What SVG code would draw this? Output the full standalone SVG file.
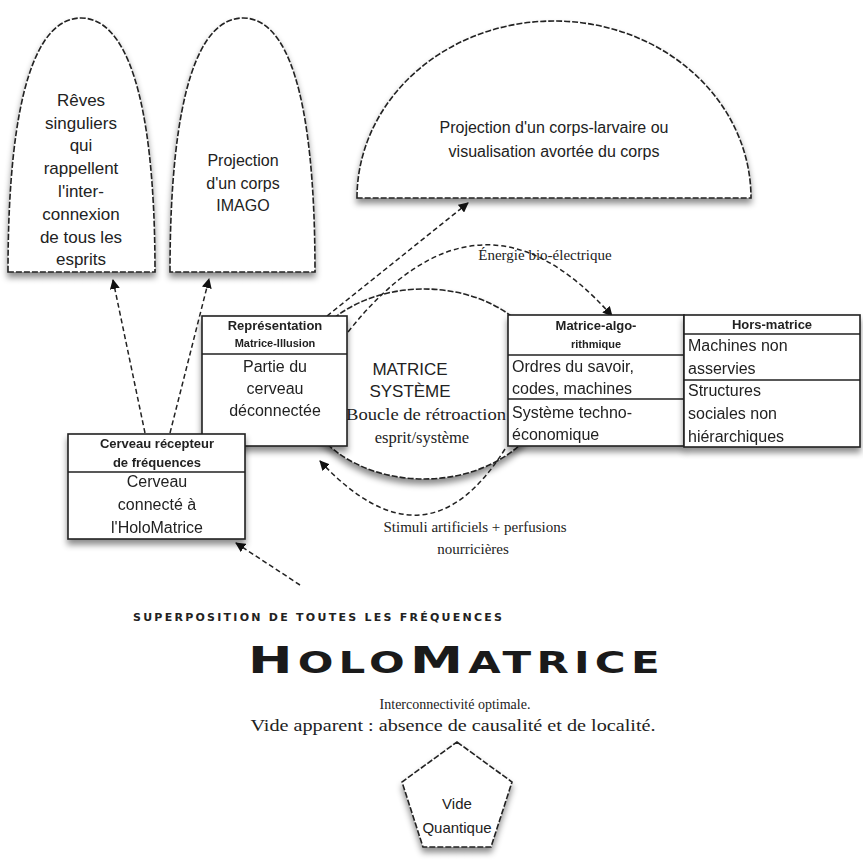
<svg xmlns="http://www.w3.org/2000/svg" width="863" height="863" viewBox="0 0 863 863">
<style>
.bg{fill:#fff}
.shape{fill:#fff;stroke:#222;stroke-width:1.6;stroke-dasharray:6 2}
.box{fill:#fff;stroke:#222;stroke-width:1.6}
.div{stroke:#222;stroke-width:1.6}
.con{fill:none;stroke:#222;stroke-width:1.5;stroke-dasharray:5 3}
.sans{font-family:"Liberation Sans",Arial,sans-serif;fill:#222}
.serif{font-family:"Liberation Serif","Times New Roman",serif;fill:#222}
.t16{font-size:16px}
.hd{font-size:13px;font-weight:bold}
.hs{font-size:11px;font-weight:bold}
.mid{text-anchor:middle}
</style>
<defs>
<filter id="sh" x="-20%" y="-20%" width="140%" height="150%">
<feDropShadow dx="0" dy="5" stdDeviation="3" flood-color="#000" flood-opacity="0.45"/>
</filter>
<marker id="ah" viewBox="0 0 10 10" refX="9" refY="5" markerWidth="10" markerHeight="10" markerUnits="userSpaceOnUse" orient="auto">
<path d="M0,0 L10,5 L0,10 Z" fill="#111"/>
</marker>
</defs>
<rect class="bg" x="0" y="0" width="863" height="863"/>

<g id="reves">
<path class="shape" filter="url(#sh)" d="M8 272 C8 90 38 18 81 18 C124 18 155 90 155 272 Z"/>
<text class="sans mid" font-size="17">
<tspan x="81" y="106">Rêves</tspan><tspan x="81" y="129">singuliers</tspan><tspan x="81" y="151">qui</tspan><tspan x="81" y="174">rappellent</tspan><tspan x="81" y="197">l'inter-</tspan><tspan x="81" y="220">connexion</tspan><tspan x="81" y="243">de tous les</tspan><tspan x="81" y="265">esprits</tspan>
</text>
</g>

<g id="imago">
<path class="shape" filter="url(#sh)" d="M170 272 C170 90 200 18 243 18 C286 18 315 90 315 272 Z"/>
<text class="sans t16 mid"><tspan x="243" y="166">Projection</tspan><tspan x="243" y="189">d'un corps</tspan><tspan x="243" y="211">IMAGO</tspan></text>
</g>

<g id="larvaire">
<path class="shape" filter="url(#sh)" d="M357 198 A197 177 0 0 1 751 198 Z"/>
<text class="sans t16 mid"><tspan x="554" y="133">Projection d'un corps-larvaire ou</tspan><tspan x="554" y="157">visualisation avortée du corps</tspan></text>
</g>

<g id="matrice-systeme">
<ellipse class="shape" filter="url(#sh)" cx="424" cy="384" rx="125" ry="95"/>
<text class="sans mid" font-size="17"><tspan x="410" y="375">MATRICE</tspan><tspan x="410" y="397">SYSTÈME</tspan></text>
<text class="serif mid" font-size="16.5"><tspan x="426" y="420" textLength="160" lengthAdjust="spacingAndGlyphs">Boucle de rétroaction</tspan><tspan x="422" y="443">esprit/système</tspan></text>
</g>

<g id="connectors">
<path class="con" d="M327 316 L468 203" marker-end="url(#ah)"/>
<path class="con" d="M348 332 Q480 166 612 316" marker-end="url(#ah)"/>
<path class="con" d="M145 433 L113 280" marker-end="url(#ah)"/>
<path class="con" d="M170 433 L209 279" marker-end="url(#ah)"/>
<path class="con" d="M300 585 L236 543" marker-end="url(#ah)"/>
<path class="con" d="M505 449 Q426 575 320 461" marker-end="url(#ah)"/>
<text class="serif mid" font-size="15" x="545" y="260">Énergie bio-électrique</text>
<text class="serif mid" font-size="15"><tspan x="475" y="532">Stimuli artificiels + perfusions</tspan><tspan x="473" y="554">nourricières</tspan></text>
</g>

<g id="representation" filter="url(#sh)">
<rect class="box" x="202" y="316" width="145" height="130"/>
<line class="div" x1="202" y1="354" x2="347" y2="354"/>
<text class="sans hd mid" x="275" y="330">Représentation</text>
<text class="sans hs mid" x="275" y="347">Matrice-Illusion</text>
<text class="sans t16 mid"><tspan x="275" y="372">Partie du</tspan><tspan x="275" y="394">cerveau</tspan><tspan x="275" y="416">déconnectée</tspan></text>
</g>

<g id="matrice-algo" filter="url(#sh)">
<rect class="box" x="508" y="315" width="176" height="131"/>
<line class="div" x1="508" y1="355" x2="684" y2="355"/>
<line class="div" x1="508" y1="399" x2="684" y2="399"/>
<text class="sans hd mid" x="596" y="330">Matrice-algo-</text>
<text class="sans hs mid" x="596" y="348">rithmique</text>
<text class="sans t16"><tspan x="512" y="372">Ordres du savoir,</tspan><tspan x="512" y="394">codes, machines</tspan><tspan x="512" y="418">Système techno-</tspan><tspan x="512" y="440">économique</tspan></text>
</g>

<g id="hors-matrice" filter="url(#sh)">
<rect class="box" x="684" y="315" width="176" height="132"/>
<line class="div" x1="684" y1="334" x2="860" y2="334"/>
<line class="div" x1="684" y1="380" x2="860" y2="380"/>
<text class="sans hd mid" x="772" y="329">Hors-matrice</text>
<text class="sans t16"><tspan x="688" y="351">Machines non</tspan><tspan x="688" y="374">asservies</tspan><tspan x="688" y="396">Structures</tspan><tspan x="688" y="419">sociales non</tspan><tspan x="688" y="442">hiérarchiques</tspan></text>
</g>

<g id="cerveau-recepteur" filter="url(#sh)">
<rect class="box" x="68" y="434" width="177" height="105"/>
<line class="div" x1="68" y1="472" x2="245" y2="472"/>
<text class="sans hd mid" x="157" y="448">Cerveau récepteur</text>
<text class="sans hd mid" x="157" y="467">de fréquences</text>
<text class="sans t16 mid"><tspan x="157" y="487">Cerveau</tspan><tspan x="157" y="510">connecté à</tspan><tspan x="157" y="533">l'HoloMatrice</tspan></text>
</g>

<g id="holomatrice">
<text font-family="'DejaVu Sans',sans-serif" font-size="11" font-weight="bold" fill="#222" x="133" y="621" textLength="369" lengthAdjust="spacing">SUPERPOSITION DE TOUTES LES FRÉQUENCES</text>
<text font-family="'DejaVu Sans',sans-serif" font-weight="bold" fill="#1a1a1a" transform="translate(248,673) scale(1.4,1)" x="0" y="0" textLength="294" lengthAdjust="spacing"><tspan font-size="38">H</tspan><tspan font-size="30">OLO</tspan><tspan font-size="38">M</tspan><tspan font-size="30">ATRICE</tspan></text>
<text class="serif mid" font-size="14" x="455" y="709">Interconnectivité optimale.</text>
<text class="serif mid" font-size="16" x="453" y="731" textLength="405" lengthAdjust="spacingAndGlyphs">Vide apparent : absence de causalité et de localité.</text>
</g>

<g id="vide-quantique">
<polygon class="shape" filter="url(#sh)" points="457,742 512,782 491,847 423,847 402,782"/>
<text class="sans mid" font-size="15"><tspan x="457" y="809">Vide</tspan><tspan x="457" y="833">Quantique</tspan></text>
</g>
</svg>
